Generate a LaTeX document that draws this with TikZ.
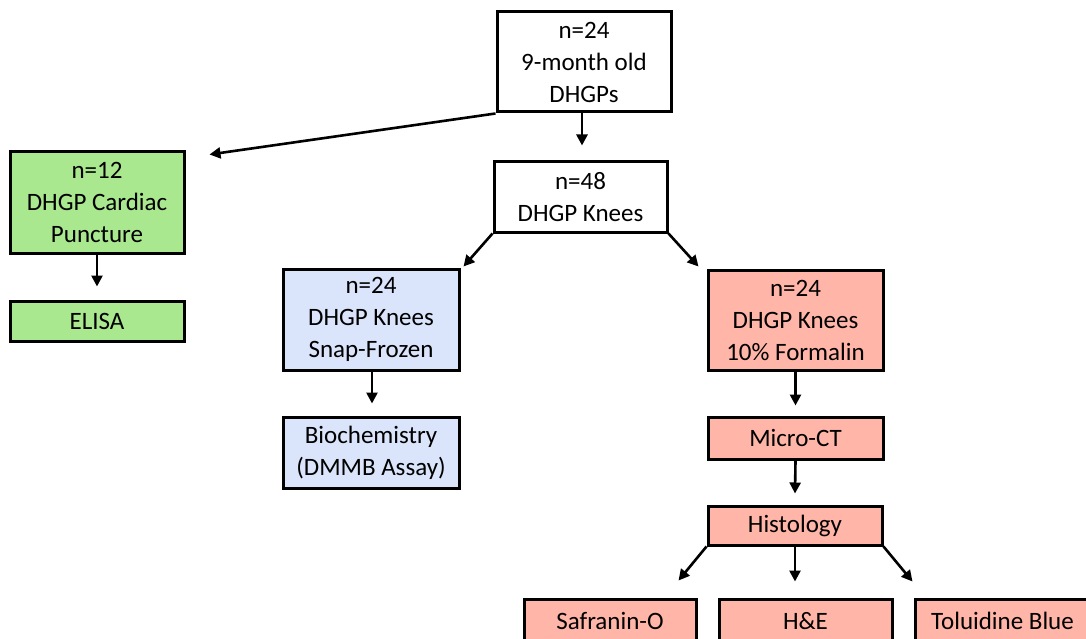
\documentclass[tikz,border=0pt]{standalone}
\usepackage{fontspec}
\setmainfont{Carlito}
\usetikzlibrary{arrows.meta}
\definecolor{gfill}{RGB}{169,232,142}
\definecolor{bfill}{RGB}{218,228,250}
\definecolor{rfill}{RGB}{255,181,168}
\tikzset{
  box/.style={draw=black, line width=3pt, align=center, inner sep=0pt,
    font=\fontsize{25}{32}\selectfont},
  arr/.style={line width=2.6pt, -{Triangle[length=11pt,width=11pt]}}
}
\begin{document}
\begin{tikzpicture}[x=1pt,y=-1pt]
\useasboundingbox (0,0) rectangle (1086,639);
\clip (0,0) rectangle (1086,639);
\fill[white] (0,0) rectangle (1086,639);
% nodes
\node[box, fill=white, minimum width=174pt, minimum height=100pt] (top) at (584,62) {n=24\\9-month old\\DHGPs};
\node[box, fill=white, minimum width=173pt, minimum height=70pt] (knees) at (580.5,197) {n=48\\DHGP Knees};
\node[box, fill=gfill, minimum width=174pt, minimum height=101pt] (green) at (97,202.5) {n=12\\DHGP Cardiac\\Puncture};
\node[box, fill=gfill, minimum width=174pt, minimum height=40pt] (elisa) at (97,321) {ELISA};
\node[box, fill=bfill, minimum width=176pt, minimum height=101pt] (blue) at (371,319.5) {n=24\\DHGP Knees\\Snap-Frozen};
\node[box, fill=bfill, minimum width=176pt, minimum height=71pt] (bio) at (371,452.5) {Biochemistry\\(DMMB Assay)};
\node[box, fill=rfill, minimum width=175pt, minimum height=100pt] (red) at (795.5,320) {n=24\\DHGP Knees\\10\% Formalin};
\node[box, fill=rfill, minimum width=175pt, minimum height=42pt] (micro) at (795.5,438) {Micro-CT};
\node[box, fill=rfill, minimum width=174pt, minimum height=39pt] (hist) at (795,525.5) {Histology};
\node[box, fill=rfill, minimum width=172pt, minimum height=44pt] (saf) at (610,621) {Safranin-O};
\node[box, fill=rfill, minimum width=173pt, minimum height=44pt] (he) at (805.5,621) {H\&E};
\node[box, fill=rfill, minimum width=175pt, minimum height=44pt] (tol) at (1002.5,621) {Toluidine Blue};
% connectors
\draw[arr, shorten >=15pt] ([xshift=-2pt]top.south) -- ([xshift=-2pt]top.south |- knees.north);
\draw[arr] (top.south west) -- ([shift={(24,4)}]green.north east);
\draw[arr] (green.south) -- ([yshift=13pt]elisa.north);
\draw[arr] (knees.south west) -- ([shift={(3,-1)}]blue.north east);
\draw[arr] (knees.south east) -- ([shift={(-8,-2)}]red.north west);
\draw[arr] ([xshift=1pt]blue.south) -- ([shift={(1,-12)}]bio.north);
\draw[arr] (red.south) -- ([yshift=10pt]micro.north);
\draw[arr] (micro.south) -- ([yshift=11pt]hist.north);
\draw[arr] (hist.south west) -- ([shift={(-19,-17)}]saf.north east);
\draw[arr] (hist.south) -- ([yshift=16pt]hist.south |- he.north);
\draw[arr] (hist.south east) -- ([shift={(-1,-16)}]tol.north west);
\end{tikzpicture}
\end{document}
